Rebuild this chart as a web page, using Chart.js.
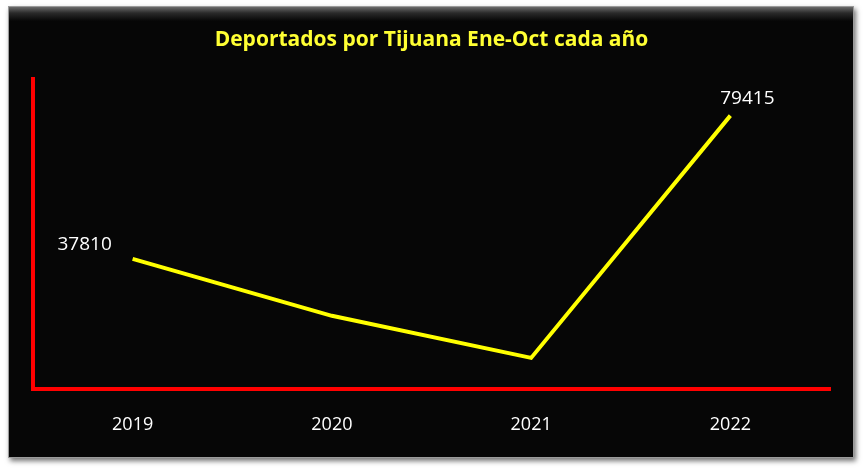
<!DOCTYPE html>
<html>
<head>
<meta charset="utf-8">
<script src="https://cdn.jsdelivr.net/npm/chart.js@4"></script>
<style>
    html, body { margin: 0; padding: 0; background: #ffffff; }
    #wrap { position: relative; width: 864px; height: 471px; }
    #panel {
        position: absolute; left: 8px; top: 6px; width: 846px; height: 452px;
        background: linear-gradient(to bottom, #6a6a6a 0px, #2a2a2a 6px, #060606 14px, #060606 100%);
        box-shadow: 2px 3px 5px rgba(0, 0, 0, 0.55);
        border: 1px solid #9a9a9a;
        box-sizing: border-box;
    }
    canvas { position: absolute; left: 0; top: 0; }
</style>
</head>
<body>
<div id="wrap">
    <div id="panel"></div>
    <canvas id="chart" width="864" height="471"></canvas>
</div>
<script>
    // Data
    const years = ['2019', '2020', '2021', '2022'];
    const deportados = [37810, 21260, 9030, 79415];
    const labelledIdx = [0, 3]; // only first and last point carry a value label

    // Simple inline value-label plugin (no datalabels available offline)
    const valueLabels = {
        id: 'valueLabels',
        afterDatasetsDraw(chart) {
            const ctx = chart.ctx;
            const meta = chart.getDatasetMeta(0);
            ctx.save();
            ctx.fillStyle = '#ffffff';
            ctx.font = '19px "Open Sans", sans-serif';
            ctx.textAlign = 'center';
            ctx.textBaseline = 'middle';
            labelledIdx.forEach(i => {
                const pt = meta.data[i];
                const dx = i === 0 ? -48 : 17;
                const dy = i === 0 ? -14 : -17;
                ctx.fillText(String(deportados[i]), pt.x + dx, pt.y + dy);
            });
            ctx.restore();
        }
    };

    const ctx = document.getElementById('chart').getContext('2d');
    new Chart(ctx, {
        type: 'line',
        data: {
            labels: years,
            datasets: [{
                data: deportados,
                borderColor: '#ffff00',
                borderWidth: 4,
                pointRadius: 0,
                tension: 0,
                fill: false
            }]
        },
        options: {
            responsive: false,
            animation: false,
            layout: {
                padding: { left: 33, right: 34, top: 0, bottom: 0 }
            },
            plugins: {
                legend: { display: false },
                tooltip: { enabled: false },
                title: {
                    display: true,
                    text: 'Deportados por Tijuana Ene-Oct cada año',
                    color: '#ffff33',
                    font: { family: '"Open Sans", sans-serif', size: 21, weight: 'bold' },
                    padding: { top: 27, bottom: 27 }
                }
            },
            scales: {
                x: {
                    offset: true,
                    grid: { display: false },
                    border: { display: true, color: '#ff0000', width: 4 },
                    ticks: {
                        color: '#ffffff',
                        font: { family: '"Open Sans", sans-serif', size: 18 },
                        padding: 17
                    },
                    afterFit(scale) { scale.height = 82; }
                },
                y: {
                    min: 0,
                    max: 90000,
                    grid: { display: false },
                    border: { display: true, color: '#ff0000', width: 4 },
                    ticks: { display: false },
                    afterFit(scale) { scale.width = 0; }
                }
            }
        },
        plugins: [valueLabels]
    });
</script>
</body>
</html>
